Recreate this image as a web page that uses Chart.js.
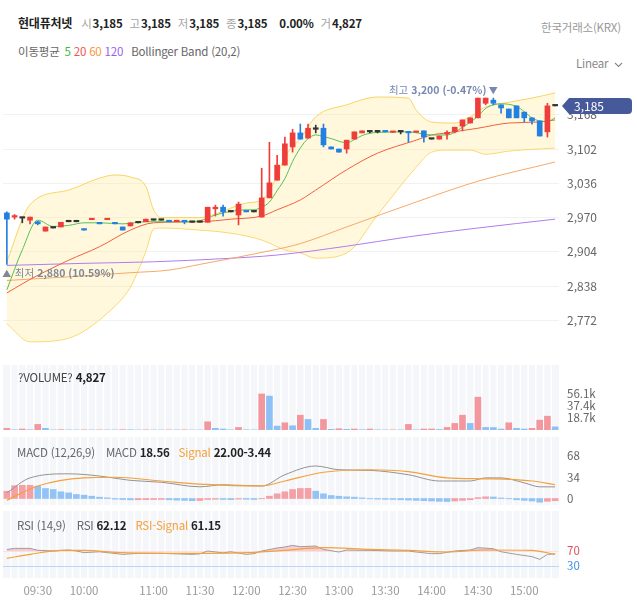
<!DOCTYPE html>
<html lang="ko">
<head>
<meta charset="utf-8">
<title>현대퓨처넷</title>
<script src="https://cdn.jsdelivr.net/npm/chart.js@4.4.1/dist/chart.umd.min.js"></script>
<style>
  body { margin: 0; background: #fff; }
  #wrap { position: relative; width: 637px; height: 606px; overflow: hidden; font-family: "Noto Sans CJK KR", "Noto Sans", sans-serif; }
  .txt { position: absolute; white-space: nowrap; font-size: 11.5px; line-height: 16px; color: #222; z-index: 2; letter-spacing: -0.2px; }
  .lbl { color: #a3a3a3; margin-left: 7px; margin-right: 1px; }
  .gry { color: #666; }
  .val { font-weight: 700; color: #222; }
  .pane { position: absolute; left: 0; width: 637px; }
</style>
</head>
<body>
<div id="wrap">
  <div class="pane" style="top:80px;height:272px"><canvas id="price"></canvas></div>
  <div class="pane" style="top:365px;height:65px"><canvas id="volume"></canvas></div>
  <div class="pane" style="top:437px;height:68px"><canvas id="macd"></canvas></div>
  <div class="pane" style="top:511px;height:95px"><canvas id="rsi"></canvas></div>

  <!-- header -->
  <div class="txt" style="left:18px;top:15px"><span class="val" style="font-size:12px">현대퓨처넷</span><span class="lbl" style="margin-left:9px">시</span><span class="val" id="hOpen"></span><span class="lbl">고</span><span class="val" id="hHigh"></span><span class="lbl">저</span><span class="val" id="hLow"></span><span class="lbl">종</span><span class="val" id="hClose"></span><span class="val" style="margin-left:12px">0.00%</span><span class="lbl">거</span><span class="val" id="hVol"></span></div>
  <div class="txt" style="left:541px;top:19px;color:#999">한국거래소(KRX)</div>

  <div class="txt gry" style="left:18px;top:43px">이동평균<span style="color:#3dbb4c;margin-left:5px">5</span>
    <span style="color:#f0524f">20</span>
    <span style="color:#f59a42">60</span>
    <span style="color:#9b5cf0">120</span>
    <span style="margin-left:5px">Bollinger Band (20,2)</span></div>
  <div class="txt" style="left:576px;top:55px;color:#888">Linear
    <svg width="9" height="6" style="margin-left:3px;vertical-align:middle"><polyline points="1,1 4.5,4.5 8,1" fill="none" stroke="#888" stroke-width="1.1"/></svg></div>

  <!-- panel titles -->
  <div class="txt" style="left:18px;top:369px;color:#444">?VOLUME? <span class="val" id="vTitle"></span></div>
  <div class="txt gry" style="left:17px;top:444px">MACD (12,26,9)<span style="margin-left:11px">MACD </span><span class="val">18.56</span><span style="margin-left:9px;color:#f5a03a">Signal </span><span class="val">22.00-3.44</span></div>
  <div class="txt gry" style="left:17px;top:517px">RSI (14,9)<span style="margin-left:11px">RSI </span><span class="val">62.12</span><span style="margin-left:9px;color:#f5a03a">RSI-Signal </span><span class="val">61.15</span></div>
</div>

<script>
// one entry per 5-minute candle
const times = ['09:10','09:15','09:20','09:25','09:30','09:35','09:40','09:45','09:50','09:55',
  '10:00','10:05','10:10','10:20','10:25','10:35','10:40','10:50','10:55',
  '11:00','11:05','11:10','11:15','11:20','11:25','11:30','11:35','11:40','11:45','11:50','11:55',
  '12:00','12:05','12:10','12:15','12:20','12:25','12:30','12:35','12:40','12:45','12:50','12:55',
  '13:00','13:05','13:10','13:15','13:20','13:25','13:30','13:35','13:40','13:45','13:50','13:55',
  '14:00','14:05','14:10','14:15','14:20','14:25','14:30','14:35','14:40','14:45','14:50','14:55',
  '15:00','15:05','15:10','15:15','15:20'];
const timeTicks = ['09:30','10:00','11:00','11:30','12:00','12:30','13:00','13:30','14:00','14:30','15:00'];

const opens  = [2979,2971,2969,2965,2962,2944,2950,2952,2962,2962, 2948,2966,2959,2966,2959,2952,2954,2960,2962,2965,
  2965,2965,2962,2963,2961,2961,2961,2987,2990,2981, 2975,2982,2981,2971,3008,3042,3071,3106,3133,3123,
  3140,3142,3106,3102,3102,3121,3133,3135,3135,3136, 3134,3135,3135,3134,3137,3121,3121,3131,3135,3146,
  3152,3162,3190,3196,3187,3179,3185,3173,3162,3156, 3135,3185];
const highs  = [2981,2976,2969,2971,2963,2952,2950,2961,2962,2962, 2948,2967,2959,2967,2959,2952,2960,2960,2967,2965,
  2965,2965,2965,2964,2961,2961,2990,2994,2994,2981, 3000,2982,2981,3065,3115,3090,3125,3140,3150,3150,
  3148,3150,3106,3102,3119,3135,3137,3137,3137,3136, 3135,3137,3135,3135,3137,3121,3127,3137,3144,3158,
  3162,3200,3200,3200,3187,3179,3185,3173,3162,3156, 3190,3185];
const lows   = [2880,2967,2960,2958,2956,2944,2950,2952,2962,2962, 2946,2966,2958,2966,2958,2946,2954,2960,2962,2965,
  2965,2962,2962,2958,2961,2961,2961,2973,2973,2981, 2956,2981,2981,2971,3008,3042,3071,3096,3121,3123,
  3133,3106,3102,3096,3094,3121,3133,3133,3133,3135, 3134,3131,3115,3134,3115,3121,3121,3121,3133,3137,
  3152,3162,3187,3187,3171,3162,3162,3154,3150,3127, 3125,3185];
const closes = [2967,2973,2969,2971,2958,2952,2950,2961,2962,2962, 2946,2967,2958,2967,2958,2946,2960,2960,2967,2965,
  2965,2962,2965,2962,2961,2961,2990,2990,2981,2981, 2996,2981,2981,3008,3037,3071,3112,3133,3121,3142,
  3140,3110,3102,3096,3119,3135,3137,3135,3135,3135, 3135,3135,3133,3135,3125,3121,3127,3133,3144,3158,
  3162,3200,3200,3190,3181,3162,3162,3162,3156,3127, 3185,3185];
const volumes = [2600,300,1500,400,8700,2600,200,500,200,100, 300,200,300,200,200,500,400,100,300,100,
  100,200,200,300,100,100,12800,2600,1500,300, 4000,300,200,56000,52700,6100,11200,6600,23000,16400,
  2600,16400,1000,2000,1000,1500,500,1500,300,200, 300,200,8700,300,1500,1600,800,4000,10200,23000,
  10200,51000,4000,3800,1500,11200,2600,1500,2600,15300, 21500,4827];

// indicator lines: [candle index, value]
const ma5 = [[0,2831],[2,2908],[4,2965],[6,2953],[8,2955],[10,2960],[12,2960],[15,2958],[18,2962],[21,2962],[23,2962],
  [25,2964],[27,2975],[29,2982],[31,2985],[32,2985],[33,2990],[34,3000],[35,3022],[36,3045],[37,3078],[38,3104],
  [39,3122],[40,3129],[41,3126],[42,3122],[44,3114],[45,3120],[46,3128],[48,3134],[52,3135],[55,3129],[57,3129],
  [59,3144],[61,3165],[62,3180],[63,3187],[64,3189],[66,3184],[67,3174],[68,3162],[69,3156],[70,3155],[71,3162]];
const ma20 = [[0,2825],[3,2851],[8,2888],[12,2914],[16,2946],[19,2960],[25,2962],[29,2967],[33,2973],[35,2985],
  [38,3004],[40,3023],[44,3062],[48,3094],[53,3119],[55,3129],[57,3133],[61,3142],[65,3152],[69,3154],[71,3158]];
const ma60 = [[0,2849],[8,2856],[16,2864],[21,2869],[25,2880],[34,2906],[38,2920],[44,2952],[53,3000],[61,3040],[71,3077]];
const ma120 = [[0,2878],[10,2882],[19,2885],[28,2891],[35,2898],[44,2915],[52,2933],[61,2950],[71,2967]];
const bbUpper = [[0,2886],[3,2995],[8,3023],[12,3046],[14,3052],[16,3048],[18,3030],[19,2985],[20,2970],[25,2970],
  [27,2977],[31,2998],[33,3004],[35,3050],[36,3087],[38,3122],[40,3164],[44,3187],[48,3202],[52,3200],[53,3177],
  [55,3154],[58,3152],[60,3164],[62,3183],[65,3192],[68,3200],[71,3210]];
const bbLower = [[0,2766],[3,2731],[8,2738],[13,2786],[16,2836],[17,2868],[18,2905],[19,2948],[20,2950],[25,2946],
  [29,2940],[33,2927],[36,2908],[38,2902],[40,2892],[44,2902],[48,2975],[53,3067],[55,3096],[57,3100],[60,3100],
  [62,3092],[65,3098],[71,3104]];

const macdHist = [11.7,20.5,21,21.2,19.7,16,14.4,10.7,9,6.4,5.3,3.7,2.1,1.1,
  -1,-1.6,-2.1,-2.0,-1.8,-1.6,-1.5,-2.0,-2.6,-3.0,-3.5,-3.2,-1.5,-1.2,-1.5,-1.8,-1.0,-1.2,-1.5,-0.5,
  3.7,7.5,10.7,14.4,16,16.2, 11.7,7.5,4.8,3.7,2.7,2.1,1.0,
  -0.5,-1,-1.3,-1.5,-2,-2.5,-3,-3.5,-4,-4.5,-4.8, -4,-3,-2, 1.5,2.7,2.4,0.8,
  -0.5,-2,-3,-4,-5.9,-4.5,-3.44];
const macdLine = [[0,9],[3,33],[8,39.5],[12,36],[16,29],[20,26],[25,18.7],[28,22],[33,20],[36,38],[40,52],[43,46],
  [47,45],[52,38],[56,28],[60,28],[62,33],[64,33],[67,25],[69,18.7],[71,18.56]];
const macdSignal = [[0,-2.7],[4,20],[10,33],[14,34],[20,28],[25,23],[33,20],[36,28],[41,42],[47,46],[52,43],
  [57,33],[62,31.5],[68,28],[71,22]];
const rsiLine = [[0,74],[1,77],[3,77],[4,72],[6,70],[8,72.7],[9,70],[10,65.6],[12,68],[15,61],[17,63.8],[20,63.8],
  [24,61],[25,62.5],[26,70],[28,65],[29,68],[31,61],[32,62.9],[33,70],[35,78],[36,80.7],[37,85],[38,81.6],
  [40,83.3],[41,74.4],[43,67.3],[44,72.7],[47,71.8],[50,70],[52,70],[53,67.3],[55,62.9],[56,63],[58,70],
  [60,72.7],[61,78.9],[63,76.2],[64,68],[66,61],[68,55],[69,47.8],[70,61],[71,62.12]];
const rsiSignal = [[0,50.4],[3,61],[7,71.8],[10,71.8],[15,65.6],[23,63.8],[31,65.6],[36,71.8],[41,78.9],[47,74.4],
  [52,71.8],[57,67.3],[62,72.7],[68,71.8],[71,61.15]];

const priceTicks = [2772, 2838, 2904, 2970, 3036, 3102, 3168];
const volumeTicks = [18700, 37400, 56100];
const macdTicks = [0, 34, 68];
const rsiTicks = [30, 70];

const fmt = v => v.toLocaleString('en-US');
const last = times.length - 1;
document.getElementById('hOpen').textContent = fmt(opens[last]);
document.getElementById('hHigh').textContent = fmt(highs[last]);
document.getElementById('hLow').textContent = fmt(lows[last]);
document.getElementById('hClose').textContent = fmt(closes[last]);
document.getElementById('hVol').textContent = fmt(volumes[last]);
document.getElementById('vTitle').textContent = fmt(volumes[last]);

Chart.defaults.font.family = '"Noto Sans CJK KR", "Noto Sans", sans-serif';
Chart.defaults.animation = false;

const RED = '#ef3e3a', BLUE = '#2380e0';
const candleColors = opens.map((o, i) => closes[i] > o ? RED : closes[i] < o ? BLUE : '#333');
const volColors = volumes.map((v, i) => i === 0 || v > volumes[i - 1] ? '#f3979e' : '#8dc0f4');
const histColors = macdHist.map((v, i) => i === 0 || v > macdHist[i - 1] ? '#f3a0a6' : '#92c3f4');
const pts = arr => arr.map(p => ({ x: p[0], y: p[1] }));

let line = (data, color, extra) => Object.assign({
  type: 'line', data: pts(data), borderColor: color, borderWidth: 1, pointRadius: 0,
  cubicInterpolationMode: 'monotone', fill: false, order: 1
}, extra || {});

let xScale = show => ({
  type: 'linear', min: -0.5, max: last + 0.5, display: show, offset: false,
  grid: { display: false, drawTicks: false }, border: { display: false },
  afterBuildTicks: s => { s.ticks = timeTicks.map(t => ({ value: times.indexOf(t) })); },
  ticks: { autoSkip: false, maxRotation: 0, padding: 6, color: '#9a9a9a', font: { size: 11.5 }, callback: v => times[v] },
  afterFit: s => { s.height = show ? 28 : 0; s.paddingLeft = 0; s.paddingRight = 0; }
});

let yScale = (min, max, ticks, cb, extra) => Object.assign({
  position: 'right', min: min, max: max,
  grid: { display: false, drawTicks: false }, border: { display: false },
  afterBuildTicks: s => { s.ticks = ticks.map(v => ({ value: v })); },
  ticks: { padding: 8, color: '#666', font: { size: 11.5 }, callback: cb },
  afterFit: s => { s.width = 78; s.paddingTop = 0; s.paddingBottom = 0; }
}, extra || {});

let baseOptions = (scales) => ({
  responsive: true, maintainAspectRatio: false, events: [],
  layout: { padding: { left: 3, right: 0, top: 0, bottom: 0 } },
  plugins: { legend: { display: false }, tooltip: { enabled: false } },
  scales: scales
});

// light striped background used by the lower panels
const stripes = {
  id: 'stripes',
  beforeDraw(chart) {
    const { ctx, chartArea: a, scales: { x } } = chart;
    ctx.save();
    ctx.fillStyle = '#f5f6f9';
    ctx.fillRect(a.left, a.top, a.width, a.height);
    ctx.strokeStyle = '#ffffff';
    ctx.lineWidth = 1.5;
    for (let i = 0; i < last; i++) {
      const px = x.getPixelForValue(i + 0.5);
      ctx.beginPath(); ctx.moveTo(px, a.top); ctx.lineTo(px, a.bottom); ctx.stroke();
    }
    ctx.restore();
  }
};

// high / low markers and the last price tag
const priceMarks = {
  id: 'priceMarks',
  afterDraw(chart) {
    const { ctx, scales: { x, y } } = chart;
    const hi = Math.max(...highs), lo = Math.min(...lows);
    const hiIdx = highs.lastIndexOf(hi), loIdx = lows.indexOf(lo);
    const close = closes[last];
    ctx.save();
    ctx.textBaseline = 'middle';

    let px = x.getPixelForValue(hiIdx), py = y.getPixelForValue(hi) - 8;
    ctx.fillStyle = '#7888b3';
    ctx.font = '9px "Noto Sans CJK KR"';
    ctx.textAlign = 'center';
    ctx.fillText('▼', px, py);
    ctx.textAlign = 'right';
    ctx.font = 'bold 10.5px "Noto Sans CJK KR"';
    const hiTxt = fmt(hi) + ' (' + ((close - hi) / hi * 100).toFixed(2) + '%)';
    ctx.fillText(hiTxt, px - 7, py);
    const w1 = ctx.measureText(hiTxt).width;
    ctx.font = '10.5px "Noto Sans CJK KR"';
    ctx.fillText('최고', px - 10 - w1, py);

    px = x.getPixelForValue(loIdx); py = y.getPixelForValue(lo) + 9;
    ctx.fillStyle = '#7d8799';
    ctx.font = '9px "Noto Sans CJK KR"';
    ctx.textAlign = 'center';
    ctx.fillText('▲', px, py);
    ctx.textAlign = 'left';
    ctx.font = '10.5px "Noto Sans CJK KR"';
    ctx.fillText('최저', px + 8, py);
    const w2 = ctx.measureText('최저').width;
    ctx.font = 'bold 10.5px "Noto Sans CJK KR"';
    ctx.fillText(fmt(lo) + ' (' + ((close - lo) / lo * 100).toFixed(2) + '%)', px + 11 + w2, py);

    // last price tag on the axis
    const ty = y.getPixelForValue(close), tx = chart.chartArea.right + 3;
    ctx.fillStyle = '#46599a';
    ctx.beginPath();
    ctx.moveTo(tx, ty);
    ctx.lineTo(tx + 7, ty - 8);
    ctx.lineTo(tx + 66, ty - 8);
    ctx.quadraticCurveTo(tx + 70, ty - 8, tx + 70, ty - 4);
    ctx.lineTo(tx + 70, ty + 4);
    ctx.quadraticCurveTo(tx + 70, ty + 8, tx + 66, ty + 8);
    ctx.lineTo(tx + 7, ty + 8);
    ctx.closePath();
    ctx.fill();
    ctx.fillStyle = '#fff';
    ctx.font = '12px "Noto Sans CJK KR"';
    ctx.textAlign = 'left';
    ctx.fillText(fmt(close), tx + 12, ty + 0.5);
    ctx.restore();
  }
};

// price panel
new Chart(document.getElementById('price'), {
  type: 'bar',
  data: {
    datasets: [
      { type: 'bar', data: opens.map((o, i) => ({ x: i, y: [lows[i], highs[i]] })), backgroundColor: candleColors,
        barThickness: 1, grouped: false, order: 0 },
      { type: 'bar', data: opens.map((o, i) => ({ x: i, y: [o, closes[i]] })), backgroundColor: candleColors,
        barThickness: 5, minBarLength: 1.5, grouped: false, order: 0 },
      line(ma5, '#52c255'),
      line(ma20, '#f2603f'),
      line(ma60, '#f7a868'),
      line(ma120, '#b07cf0'),
      line(bbUpper, '#f7d463', { fill: '+1', backgroundColor: 'rgba(255,238,170,0.4)', order: 3 }),
      line(bbLower, '#f7d463', { order: 3 })
    ]
  },
  options: baseOptions({
    x: xScale(false),
    y: yScale(2711.4, 3234.8, priceTicks, v => fmt(v), {
      grid: { display: true, drawTicks: false, color: '#f1f1f1' },
      ticks: { padding: 8, color: '#666', font: { size: 12 }, callback: v => fmt(v) }
    })
  }),
  plugins: [priceMarks]
});

// volume panel
new Chart(document.getElementById('volume'), {
  type: 'bar',
  data: { datasets: [{ data: volumes.map((v, i) => ({ x: i, y: v })), backgroundColor: volColors, barThickness: 6 }] },
  options: baseOptions({
    x: xScale(false),
    y: yScale(0, 101000, volumeTicks, v => (v / 1000).toFixed(1) + 'k')
  }),
  plugins: [stripes]
});

// MACD panel
new Chart(document.getElementById('macd'), {
  type: 'bar',
  data: {
    datasets: [
      { type: 'bar', data: macdHist.map((v, i) => ({ x: i, y: v })), backgroundColor: histColors, barThickness: 6, order: 2 },
      line(macdLine, '#939393', { order: 1 }),
      line(macdSignal, '#f5a03a', { order: 0, borderWidth: 1.2 })
    ]
  },
  options: baseOptions({
    x: xScale(false),
    y: yScale(-10.4, 98.4, macdTicks, v => v)
  }),
  plugins: [stripes]
});

// RSI panel
new Chart(document.getElementById('rsi'), {
  type: 'line',
  data: {
    datasets: [
      line(rsiLine, '#9d9d9d', { cubicInterpolationMode: 'default', tension: 0, order: 1,
        fill: { target: { value: 70 }, above: 'rgba(240,140,150,0.4)', below: 'rgba(0,0,0,0)' } }),
      line(rsiSignal, '#f5a03a', { order: 0, borderWidth: 1.2 })
    ]
  },
  options: baseOptions({
    x: xScale(true),
    y: yScale(-2, 176.7, rsiTicks, v => v, {
      grid: { display: true, drawTicks: false, lineWidth: 1,
        color: c => c.tick && c.tick.value === 30 ? '#b6d8fa' : '#fae0e0' },
      ticks: { padding: 8, font: { size: 11.5 }, callback: v => v,
        color: c => c.tick && c.tick.value === 30 ? '#3e8fe3' : '#e2515a' }
    })
  }),
  plugins: [stripes]
});
</script>
</body>
</html>
